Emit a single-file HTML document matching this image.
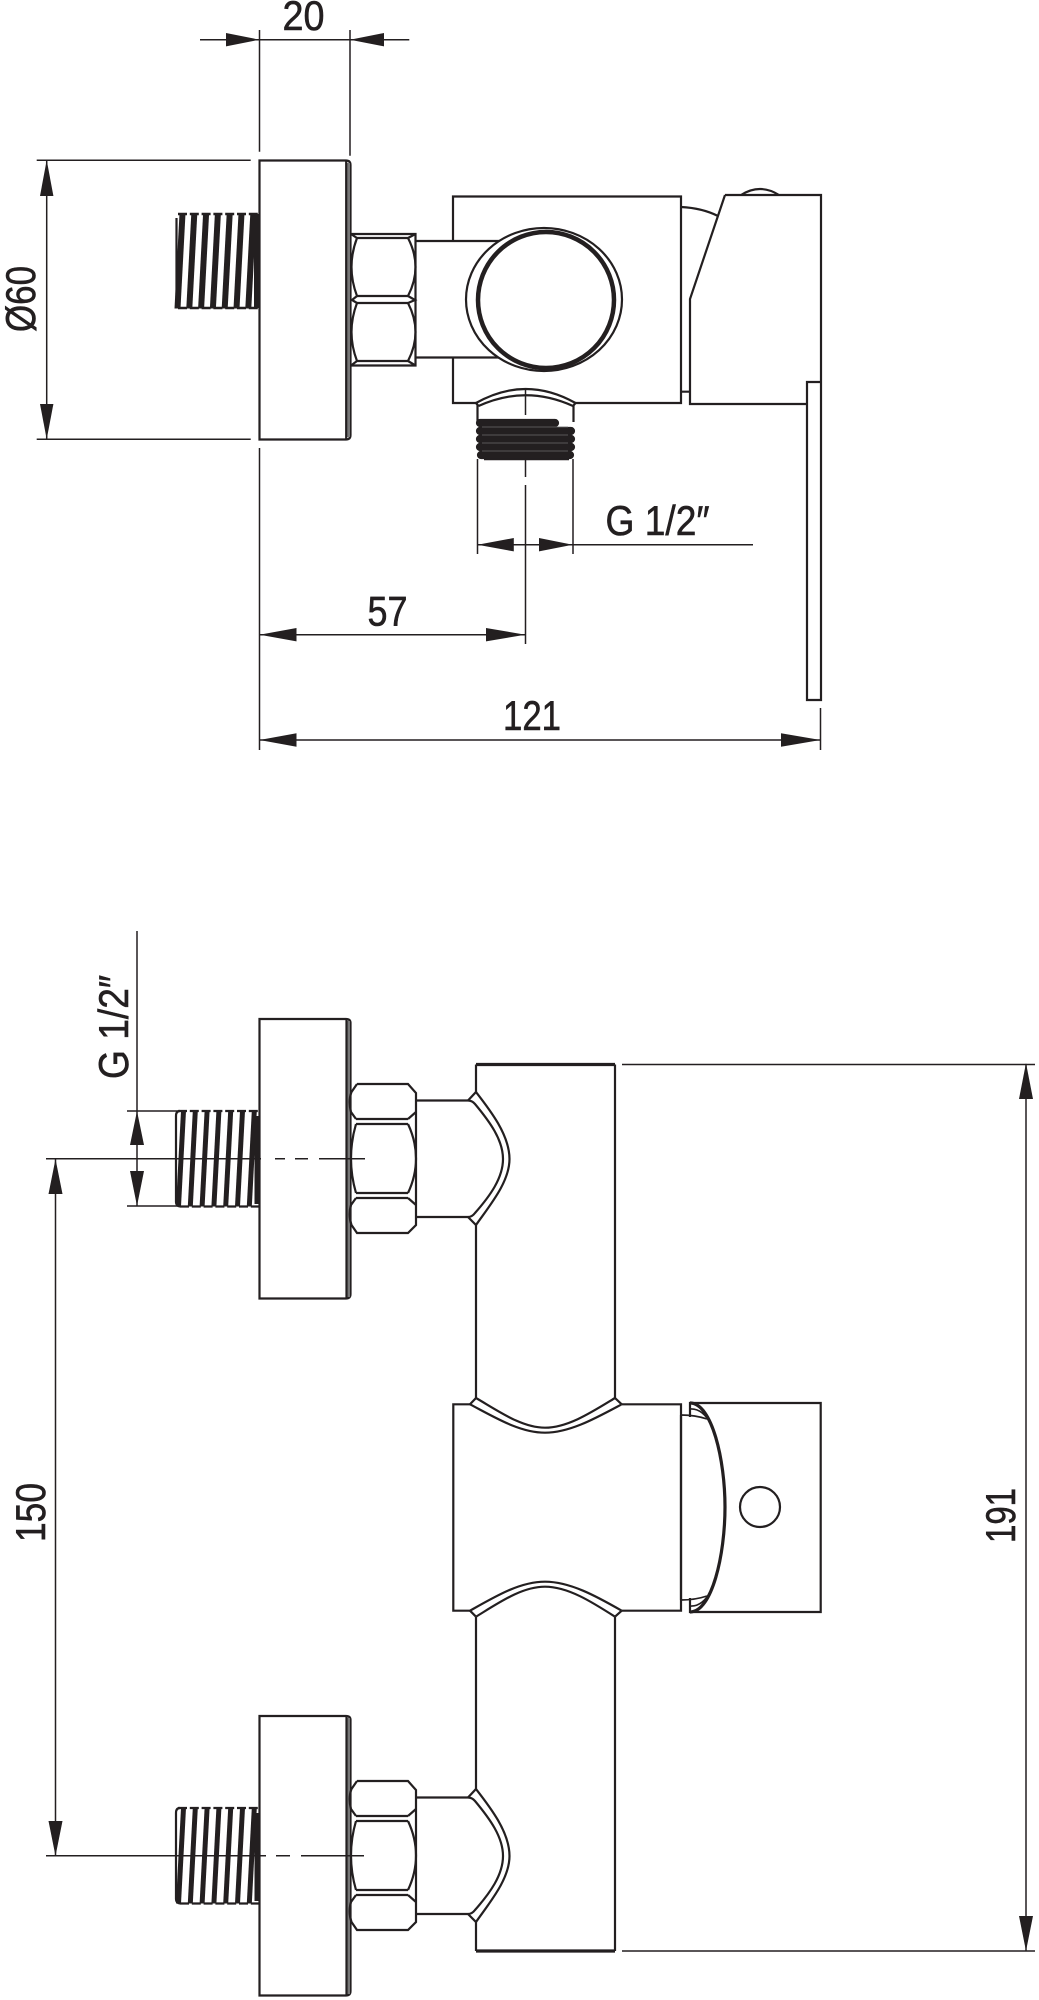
<!DOCTYPE html>
<html><head><meta charset="utf-8"><style>
html,body{margin:0;padding:0;background:#fff;width:1039px;height:2000px;overflow:hidden}
svg{display:block}
text{font-family:"Liberation Sans Narrow","Liberation Sans",sans-serif;font-size:42px;fill:#231f20;stroke:#231f20;stroke-width:.6}
.d{stroke:#231f20;stroke-width:1.5;fill:none}
.s{stroke:#231f20;stroke-width:2.2;fill:none}
.a{fill:#231f20;stroke:none}
</style></head><body>
<svg width="1039" height="2000" viewBox="0 0 1039 2000" xmlns="http://www.w3.org/2000/svg">
<defs>
<polygon id="bandT" points="179.500,213.500 185.500,213.500 180.500,308.500 174.500,308.500" fill="#231f20"/>
<g id="thT">
<use href="#bandT" x="0"/><use href="#bandT" x="11.8"/><use href="#bandT" x="23.6"/><use href="#bandT" x="35.4"/><use href="#bandT" x="47.2"/><use href="#bandT" x="59"/><use href="#bandT" x="70.8"/>
<path d="M178 214H259M178 308H259" stroke="#231f20" stroke-width="2.400" stroke-dasharray="9 2.800" fill="none"/>
<path class="s" d="M176.500 218V304"/>
<rect x="254" y="214" width="5" height="94" fill="#231f20"/>
</g>
<polygon id="bandB" points="181,1111 186,1111 181,1206.500 176,1206.500" fill="#231f20"/>
<g id="assy">
<path class="s" d="M259.500 1019H346Q350.500 1019 350.500 1023V1294Q350.500 1298.500 346 1298.500H259.500Z"/>
<rect x="347" y="1021" width="3" height="276" fill="#777"/>
<path class="s" d="M346.500 1019V1298"/>
<use href="#bandB" x="0"/><use href="#bandB" x="11.800"/><use href="#bandB" x="23.600"/><use href="#bandB" x="35.400"/><use href="#bandB" x="47.200"/><use href="#bandB" x="59"/><use href="#bandB" x="70.800"/>
<path d="M178 1111H259M180 1206.500H259" stroke="#231f20" stroke-width="2.200" stroke-dasharray="9 2.800" fill="none"/>
<path class="s" d="M176 1116V1202Q176 1206 180 1206.500M176 1116Q176 1111 180 1111"/>
<rect x="254.500" y="1116" width="5" height="88" fill="#231f20"/>
<path class="s" d="M357 1084H408L416 1093V1225L408 1233H357L351.500 1225Q348 1215 351 1205L356 1198M356 1119 351 1112Q348 1101 351.500 1092L357 1084"/>
<path class="s" d="M356 1119H408M356 1124H408M356 1193H408M356 1198H408"/>
<path class="s" d="M356 1124Q351 1141 351 1158.500Q351 1176 356 1193M408 1124Q416 1141 416 1158.500Q416 1176 408 1193M408 1119 416 1112M408 1198 416 1205"/>
<path class="s" d="M416 1100.500H468Q472 1100.500 475 1104C490 1122 503 1140 503 1159C503 1178 490 1196 475 1213Q472 1217 468 1217H416"/>
<path class="s" d="M468 1100.500 476 1092C490 1110 509.500 1135 509.500 1159C509.500 1182 490 1205 476 1225L468 1217"/>
</g>
</defs>
<rect width="1039" height="2000" fill="#fff"/>

<!-- TOP VIEW dims -->
<path class="d" d="M200 39.700H409.300M259.500 30V151.700M350 30V155.700"/>
<polygon class="a" points="226,33 259.500,39.700 226,46.400"/>
<polygon class="a" points="384,33 350,39.700 384,46.400"/>
<text x="282.500" y="30" textLength="42" lengthAdjust="spacingAndGlyphs">20</text>

<path class="d" d="M36.700 160.300H250.700M36.700 439.300H250.700M46.700 160.300V439.300"/>
<polygon class="a" points="40,196 46.700,160 53.400,196"/>
<polygon class="a" points="40,404 46.700,439.300 53.400,404"/>
<text transform="translate(35,332) rotate(-90)" textLength="66" lengthAdjust="spacingAndGlyphs">Ø60</text>

<path class="d" d="M259.500 448V750M477.500 459V554M573 459V554M477.500 544.700H753M525.500 485V644M525.500 459V477M259.500 634.700H525.500M259.500 740H820.500M820.500 708V750"/>
<polygon class="a" points="513.800,538 477.500,544.700 513.800,551.400"/>
<polygon class="a" points="539,538 572.700,544.700 539,551.400"/>
<polygon class="a" points="296.500,628 259.500,634.700 296.500,641.400"/>
<polygon class="a" points="486,628 525.500,634.700 486,641.400"/>
<polygon class="a" points="296.500,733.300 259.500,740 296.500,746.700"/>
<polygon class="a" points="781,733.300 820.500,740 781,746.700"/>
<text x="605.500" y="535" textLength="104" lengthAdjust="spacingAndGlyphs">G 1/2″</text>
<text x="367.500" y="625.700" textLength="40" lengthAdjust="spacingAndGlyphs">57</text>
<text x="503" y="730" textLength="58" lengthAdjust="spacingAndGlyphs">121</text>

<!-- TOP VIEW part -->
<path class="s" d="M259.500 160.500H346Q350.500 160.500 350.500 165V435Q350.500 439.500 346 439.500H259.500Z"/>
<rect x="347" y="163" width="3" height="274" fill="#777"/>
<path class="s" d="M346.200 160.500V439.500"/>
<use href="#thT"/>
<path class="s" d="M351 234H415.500V365.500H351"/>
<path class="s" d="M351 234 357 238H408L415.500 234M357 296H408M357 303H408M357 361H408M351 365.500 357 361M415.500 365.500 408 361"/>
<path class="s" d="M357 238Q346 267 357 296M408 238Q423 267 408 296M357 303Q346 332 357 361M408 303Q423 332 408 361M357 296 352 300 357 303M408 296 415 300 408 303"/>
<path class="s" d="M415.500 241H502M415.500 357.500H501M453 241V196.500H681V403H575.500M453 357.500V403H476"/>
<ellipse cx="544" cy="299.500" rx="78" ry="71.500" class="s" style="fill:#fff"/>
<circle cx="546" cy="300" r="68" fill="#fff" stroke="#231f20" stroke-width="4.500"/>
<path class="s" d="M476 403Q525.500 375 575.500 403M478.500 406Q525.500 384.500 573 406M476 403 478.500 406M575.500 403 573 406M477.500 405V422M573.500 405V422"/>
<path class="d" d="M525.500 389V415"/>
<path d="M480 423H555M480 431H571M480 439H571M480 447H571M481 455H570" stroke="#231f20" stroke-width="8.200" stroke-linecap="round" fill="none"/>
<path d="M482 427H568M482 435H568M482 443H568M482 451H568" stroke="#6b6b6b" stroke-width=".8" fill="none"/>
<path d="M484 459.500H569" stroke="#231f20" stroke-width="1.500" fill="none"/>
<path class="s" d="M725 195H821V700H807V382H821M725 195 690 299V404H807M741 195Q760 183 779 195M681 207Q702 208 718 216M681 391.700H690"/>

<!-- BOTTOM VIEW dims -->
<path class="d" d="M137 931V1206M127 1111H180M127 1206H180M55.500 1159V1856"/>
<polygon class="a" points="130,1145 137,1111 144,1145"/>
<polygon class="a" points="130,1171 137,1206 144,1171"/>
<polygon class="a" points="48.500,1194 55.500,1159 62.500,1194"/>
<polygon class="a" points="48.500,1821 55.500,1856 62.500,1821"/>
<text transform="translate(128,1079) rotate(-90)" textLength="104" lengthAdjust="spacingAndGlyphs">G 1/2″</text>
<text transform="translate(45,1542) rotate(-90)" textLength="59" lengthAdjust="spacingAndGlyphs">150</text>
<text transform="translate(1015,1543) rotate(-90)" textLength="55" lengthAdjust="spacingAndGlyphs">191</text>
<path class="d" d="M622 1064.500H1035M622 1951H1035M1026 1064.500V1951"/>
<polygon class="a" points="1019,1099 1026,1063 1033,1099"/>
<polygon class="a" points="1019,1916 1026,1951 1033,1916"/>

<!-- BOTTOM VIEW part -->
<use href="#assy"/>
<use href="#assy" y="697"/>
<path class="d" d="M46 1158.700H261M275 1158.700H285M295 1158.700H308M319 1158.700H365M46 1855.700H266M276 1855.700H290M301 1855.700H364"/>
<path d="M476 1064.500H615M476 1951H615" stroke="#231f20" stroke-width="3.200" fill="none"/>
<path class="s" d="M476 1064.500V1092M476 1225V1398M615 1064.500V1398M476 1617V1789M476 1922V1951M615 1617V1951"/>
<path class="s" d="M470 1404.300H453.300V1610.700H470M621.700 1404.300H681V1610.700H621.700"/>
<path class="s" d="M476 1398C500 1412 522 1427.700 545 1427.700C568 1427.700 592 1412 615 1398M470 1404.300C496 1418 520 1432.700 545 1432.700C570 1432.700 596 1418 621.700 1404.300M476 1398 470 1404.300M615 1398 621.700 1404.300"/>
<path class="s" d="M476 1616.700C500 1602 522 1586.700 545 1586.700C568 1586.700 592 1602 615 1616.700M470 1610.700C496 1596 520 1581.700 545 1581.700C570 1581.700 596 1596 621.700 1610.700M476 1616.700 470 1610.700M615 1616.700 621.700 1610.700"/>
<path class="s" d="M690 1417V1403H820.700V1612H690V1598"/>
<path d="M690 1403C712 1403 725 1460 725 1507C725 1555 712 1612 690 1612" stroke="#231f20" stroke-width="3.200" fill="none"/>
<path d="M681 1415Q695 1415 707 1419M681 1600Q695 1600 707 1596M690 1409Q702 1408 711 1424M690 1606Q702 1607 711 1591" stroke="#231f20" stroke-width="1.700" fill="none"/>
<path class="s" d="M681 1415V1600"/>
<circle cx="760" cy="1507" r="20" class="s"/>
</svg>
</body></html>
